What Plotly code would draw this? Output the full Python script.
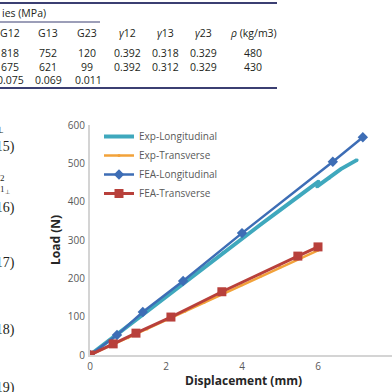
import plotly.graph_objects as go

# ---------------- data ----------------
exp_long_x = [0, 0.5, 1.0, 1.5, 2.0, 2.5, 3.0, 3.5, 4.0, 4.5, 5.0, 5.5, 6.02, 5.97, 6.3, 6.6, 7.03]
exp_long_y = [0, 38, 76, 115, 153, 192, 229, 267, 304, 341, 378, 414, 453, 439, 462, 485, 509]

exp_trans_x = [0, 0.5, 1.0, 1.5, 2.0, 2.5, 3.0, 3.5, 4.0, 4.5, 5.0, 5.5, 6.0]
exp_trans_y = [0, 22, 45, 68, 91, 114, 137, 160, 183, 206, 229, 252, 273]

fea_long_x = [0, 0.71, 1.39, 2.45, 4.0, 6.39, 7.18]
fea_long_y = [0, 52, 112, 193, 318, 504, 568]

fea_trans_x = [0, 0.61, 1.21, 2.13, 3.47, 5.47, 6.0]
fea_trans_y = [0, 29, 57, 99, 165, 258, 282]

y_ticks = [0, 100, 200, 300, 400, 500, 600]
x_ticks = [0, 2, 4, 6, 8]

table_header = ["G12", "G13", "G23", "γ12", "γ13", "γ23", "ρ (kg/m3)"]
table_row1 = ["818", "752", "120", "0.392", "0.318", "0.329", "480"]
table_row2 = ["675", "621", "99", "0.392", "0.312", "0.329", "430"]
table_row3 = ["0.075", "0.069", "0.011"]

eq_numbers = ["(15)", "(16)", "(17)", "(18)", "(19)"]

# ---------------- layout geometry ----------------
W, H = 392, 392
L, R, T, B = 90, 0, 125, 37
PW, PH = W - L - R, H - T - B

def px(x):
    return (x - L) / PW

def py(y):
    return (H - B - y) / PH

fig = go.Figure()
fig.add_trace(go.Scatter(x=exp_long_x, y=exp_long_y, name="Exp-Longitudinal", mode="lines+markers",
                         line=dict(color="#3fa8bd", width=4), marker=dict(size=3, color="#3fa8bd")))
fig.add_trace(go.Scatter(x=exp_trans_x, y=exp_trans_y, name="Exp-Transverse", mode="lines+markers",
                         line=dict(color="#f2a23a", width=2.5), marker=dict(size=3, color="#f2a23a")))
fig.add_trace(go.Scatter(x=fea_long_x, y=fea_long_y, name="FEA-Longitudinal", mode="lines+markers",
                         line=dict(color="#3d6db5", width=2.5),
                         marker=dict(symbol="diamond", size=8, color="#3d6db5")))
fig.add_trace(go.Scatter(x=fea_trans_x, y=fea_trans_y, name="FEA-Transverse", mode="lines+markers",
                         line=dict(color="#b8403b", width=3),
                         marker=dict(symbol="square", size=9, color="#b8403b")))

axis_font = dict(family="Open Sans", size=10, color="#595959")
fig.update_layout(
    width=W, height=H,
    margin=dict(l=L, r=R, t=T, b=B, pad=0),
    paper_bgcolor="white", plot_bgcolor="white",
    xaxis=dict(range=[0, PW / 38.0], tickvals=x_ticks, showgrid=False, zeroline=False,
               showline=True, linecolor="#d4d4d4", linewidth=2, ticks="", tickfont=axis_font,
               ticklabelstandoff=1),
    yaxis=dict(range=[0, 600], tickvals=y_ticks, showgrid=False, zeroline=False,
               showline=True, linecolor="#d4d4d4", linewidth=2, ticks="", tickfont=axis_font,
               ticklabelstandoff=1),
    showlegend=True,
    legend=dict(x=px(99), y=py(122), xanchor="left", yanchor="top",
                font=dict(family="Open Sans", size=10, color="#595959"),
                bgcolor="rgba(0,0,0,0)", tracegroupgap=0),
)

ann = []

def add_text(text, x, y, font, xanchor="center", angle=0):
    ann.append(dict(text=text, x=px(x), y=py(y), xref="paper", yref="paper",
                    xanchor=xanchor, yanchor="middle", showarrow=False,
                    textangle=angle, font=font))

# axis titles
title_font = dict(family="Open Sans", size=12, color="#262626")
add_text("<b>Load (N)</b>", 55, 240, title_font, angle=-90)
add_text("<b>Displacement (mm)</b>", 243, 380, title_font)

# table
tfont = dict(family="Open Sans", size=10.5, color="#231f20")
col_x = [10, 48, 87, 127, 165, 203, 253]
add_text("ies (MPa)", 0, 13, tfont, xanchor="left")
for row, yy in [(table_header, 33), (table_row1, 53), (table_row2, 67)]:
    for cx, t in zip(col_x, row):
        if t.startswith("γ"):
            t = "<i>γ</i>" + t[1:]
        if t.startswith("ρ"):
            t = "<i>ρ</i>" + t[1:]
        add_text(t, cx, yy, tfont)
for cx, t in zip([10, 48, 88], table_row3):
    add_text(t, cx, 80, tfont)

# equation numbers on the left
efont = dict(family="Liberation Serif", size=14, color="#231f20")
for t, yy in zip(eq_numbers, [147, 208, 263, 330, 388]):
    add_text(t, 17, yy, efont, xanchor="right")
small = dict(family="Liberation Serif", size=9, color="#231f20")
add_text("⊥", 6, 130, small, xanchor="right")
add_text("2", 7, 178, small, xanchor="right")
add_text("1<sub>⊥</sub>", 12, 189, small, xanchor="right")

fig.update_layout(annotations=ann)

# table rules
line_col = "#3b3f72"
shapes = [
    dict(type="line", xref="paper", yref="paper", x0=px(-5), x1=px(277), y0=py(3), y1=py(3),
         line=dict(color=line_col, width=2)),
    dict(type="line", xref="paper", yref="paper", x0=px(-5), x1=px(100), y0=py(22), y1=py(22),
         line=dict(color=line_col, width=1.2)),
    dict(type="line", xref="paper", yref="paper", x0=px(-5), x1=px(277), y0=py(88), y1=py(88),
         line=dict(color=line_col, width=2)),
]
fig.update_layout(shapes=shapes)

fig.write_html("out.html")
